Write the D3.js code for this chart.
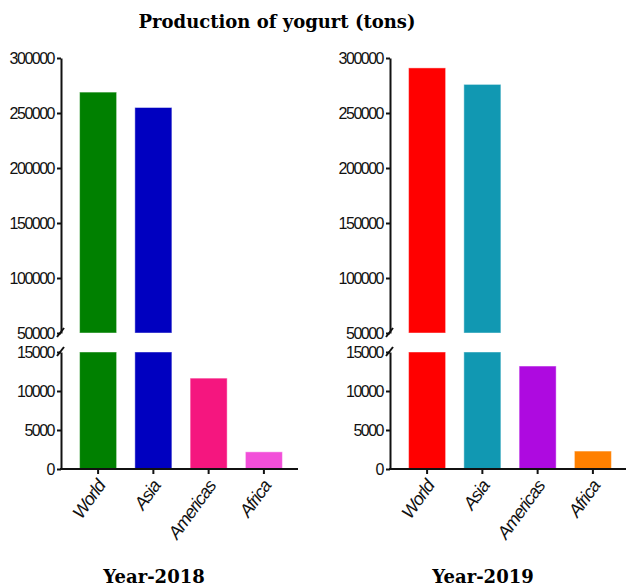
<!DOCTYPE html>
<html lang="en">
<head>
  <meta charset="UTF-8">
  <title>Production of yogurt (tons)</title>
  <script src="https://d3js.org/d3.v7.min.js"></script>
  <style>
    body { margin: 0; background: white; }
    svg { display: block; }
    .tick text { font-family: "Liberation Sans", Arial, sans-serif; font-size: 16px; letter-spacing: -1.5px; fill: #111; }
    .cat { font-family: "Liberation Sans", Arial, sans-serif; font-size: 18px; font-style: italic; letter-spacing: -1px; fill: #111; }
    .title { font-family: "DejaVu Serif", serif; font-weight: bold; font-size: 18px; }
  </style>
</head>
<body>
  <svg id="chart"></svg>
  <script>
    const regions = ["World", "Asia", "Americas", "Africa"];
    const values2018 = [269000, 255000, 11650, 2200];
    const values2019 = [291000, 276000, 13200, 2300];
    const colors2018 = ["#008000", "#0000c0", "#f5167f", "#f24fd9"];
    const colors2019 = ["#ff0000", "#1198b2", "#ae0ae0", "#ff8000"];
    const upperTicks = [50000, 100000, 150000, 200000, 250000, 300000];
    const lowerTicks = [0, 5000, 10000, 15000];

    const width = 626, height = 586;
    const svg = d3.select("#chart").attr("width", width).attr("height", height);

    svg.append("text")
      .attr("class", "title")
      .attr("x", 277)
      .attr("y", 28)
      .attr("text-anchor", "middle")
      .text("Production of yogurt (tons)");

    // broken y axis: upper part 50000-300000, lower part 0-15000
    const yTop = d3.scaleLinear().domain([50000, 300000]).range([333, 58]);
    const yBottom = d3.scaleLinear().domain([0, 15000]).range([469, 352]);

    function drawPanel(axisX, values, colors, label) {
      const g = svg.append("g");

      const x = d3.scaleBand()
        .domain(regions)
        .range([axisX + 2, axisX + 238])
        .paddingInner(0.33)
        .paddingOuter(0.3);

      // bars, lower segment
      g.selectAll(".bar-low")
        .data(regions)
        .enter()
        .append("rect")
        .attr("x", d => x(d))
        .attr("width", x.bandwidth())
        .attr("y", (d, i) => yBottom(Math.min(values[i], 15000)))
        .attr("height", (d, i) => yBottom(0) - yBottom(Math.min(values[i], 15000)))
        .attr("fill", (d, i) => colors[i])
        .attr("stroke", "rgba(255,255,255,0.45)")
        .attr("stroke-width", 1);

      // bars, upper segment
      g.selectAll(".bar-high")
        .data(regions.filter((d, i) => values[i] > 50000))
        .enter()
        .append("rect")
        .attr("x", d => x(d))
        .attr("width", x.bandwidth())
        .attr("y", d => yTop(values[regions.indexOf(d)]))
        .attr("height", d => yTop(50000) - yTop(values[regions.indexOf(d)]))
        .attr("fill", d => colors[regions.indexOf(d)])
        .attr("stroke", "rgba(255,255,255,0.45)")
        .attr("stroke-width", 1);

      const yAxisTop = g.append("g")
        .attr("transform", `translate(${axisX},0)`)
        .call(d3.axisLeft(yTop).tickValues(upperTicks).tickSize(4).tickSizeOuter(0).tickPadding(3).tickFormat(d3.format("d")));
      const yAxisBottom = g.append("g")
        .attr("transform", `translate(${axisX},0)`)
        .call(d3.axisLeft(yBottom).tickValues(lowerTicks).tickSize(4).tickSizeOuter(0).tickPadding(3).tickFormat(d3.format("d")));
      [yAxisTop, yAxisBottom].forEach(a => {
        a.selectAll("path, line").attr("stroke", "#111").attr("stroke-width", 2);
      });

      // break marks
      g.append("line")
        .attr("x1", axisX - 4).attr("y1", yTop(50000) + 4)
        .attr("x2", axisX + 3).attr("y2", yTop(50000) - 5)
        .attr("stroke", "#111").attr("stroke-width", 2);
      g.append("line")
        .attr("x1", axisX - 4).attr("y1", yBottom(15000) + 4)
        .attr("x2", axisX + 3).attr("y2", yBottom(15000) - 5)
        .attr("stroke", "#111").attr("stroke-width", 2);

      // x axis
      const xAxis = g.append("g")
        .attr("transform", `translate(0,${yBottom(0)})`)
        .call(d3.axisBottom(x).tickSize(5).tickSizeOuter(0).tickFormat(""));
      xAxis.select(".domain").attr("d", `M${axisX - 1},0H${axisX + 237}`);
      xAxis.selectAll("path, line").attr("stroke", "#111").attr("stroke-width", 2);

      g.selectAll(".cat")
        .data(regions)
        .enter()
        .append("text")
        .attr("class", "cat")
        .attr("text-anchor", "end")
        .attr("transform", d => `translate(${x(d) + x.bandwidth() / 2 + 8},${yBottom(0) + 17}) rotate(-54)`)
        .text(d => d);

      svg.append("text")
        .attr("class", "title")
        .attr("x", axisX + 93)
        .attr("y", 583)
        .attr("text-anchor", "middle")
        .text(label);
    }

    drawPanel(61, values2018, colors2018, "Year-2018");
    drawPanel(390, values2019, colors2019, "Year-2019");
  </script>
</body>
</html>
